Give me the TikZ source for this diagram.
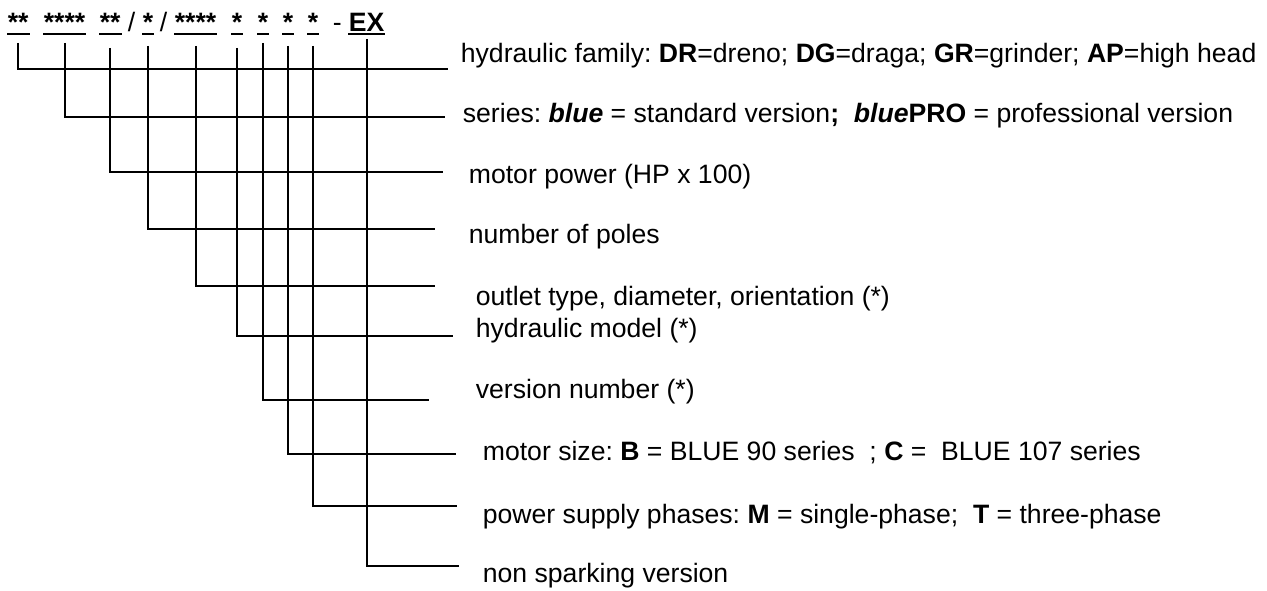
\documentclass[tikz,border=0pt]{standalone}
\usepackage{fontspec}
\setmainfont{Liberation Sans}
\usetikzlibrary{calc}

\begin{document}
\frenchspacing
\begin{tikzpicture}[%
        x = 1pt,
        y = -1pt,
        draw = black,
        line width = 1.8pt,
        every node/.style = {inner sep = 0pt, font = \fontsize{26.6pt}{31pt}\selectfont},
        code/.style = {anchor = base west},
        explain/.style = {anchor = base west},
        uline/.style = {line width = 2pt},
        % every node/.append style = {draw = red, line width = 0.2pt}
        ]

\useasboundingbox[] (0,0) rectangle (1267,590);


% the code, one node per field
\node (T1) [code] at (7,31) {\textbf{**}};
\node (T2) [code] at (43,31) {\textbf{****}};
\node (T3) [code] at (99,31) {\textbf{**}};
\node (S1) [code] at (127,31) {/};
\node (T4) [code] at (142,31) {\textbf{*}};
\node (S2) [code] at (159,31) {/};
\node (T5) [code] at (174,31) {\textbf{****}};
\node (T6) [code] at (231,31) {\textbf{*}};
\node (T7) [code] at (257,31) {\textbf{*}};
\node (T8) [code] at (282,31) {\textbf{*}};
\node (T9) [code] at (307,31) {\textbf{*}};
\node (D) [code] at (332,31) {-};
\node (T10) [code] at (348,31) {\textbf{EX}};

\foreach \N in {1,...,10}{
    \draw[uline] ([yshift=-3pt]T\N.base west) -- ([yshift=-3pt]T\N.base east);
    }


\coordinate (E1) at (448,69);
\coordinate (E2) at (445,117);
\coordinate (E3) at (443,172);
\coordinate (E4) at (435,229);
\coordinate (E5) at (435,286);
\coordinate (E6) at (453,336);
\coordinate (E7) at (429,400);
\coordinate (E8) at (456,454);
\coordinate (E9) at (457,506);
\coordinate (E10) at (459,566);

\foreach \N/\GAP in {1/11,2/11,3/16,4/14,5/14,6/16,7/11,8/14,9/14,10/7}{
    \draw ([yshift=-\GAP pt]T\N.south) |- (E\N);
    }


\node (L1) [explain] at (460,62)
    {hydraulic family: \textbf{DR}=dreno; \textbf{DG}=draga; \textbf{GR}=grinder; \textbf{AP}=high head};
\node (L2) [explain] at (462,122)
    {series: \textbf{\textit{blue}} = standard version\textbf{;}\ \ \textbf{\textit{blue}PRO} = professional version};
\node (L3) [explain] at (468,183) {motor power (HP x 100)};
\node (L4) [explain] at (468,243) {number of poles};
\node (L5) [explain] at (475,305) {outlet type, diameter, orientation (*)};
\node (L6) [explain] at (475,337) {hydraulic model (*)};
\node (L7) [explain] at (475,398) {version number (*)};
\node (L8) [explain] at (482,460)
    {motor size: \textbf{B} = BLUE 90 series\ \ ; \textbf{C} =\ \ BLUE 107 series};
\node (L9) [explain] at (482,523)
    {power supply phases: \textbf{M} = single-phase;\ \ \textbf{T} = three-phase};
\node (L10) [explain] at (482,582) {non sparking version};


\end{tikzpicture}
\end{document}
